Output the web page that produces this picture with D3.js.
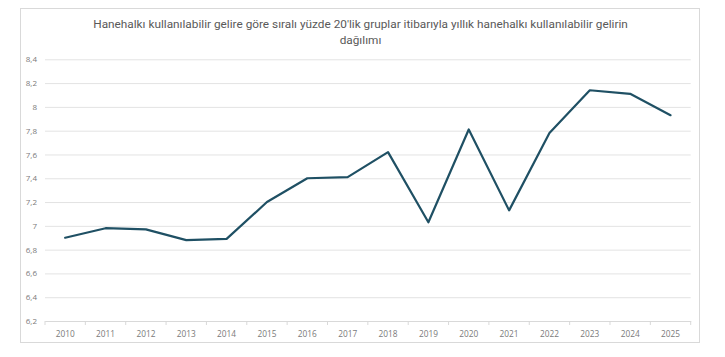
<!DOCTYPE html>
<html><head><meta charset="utf-8">
<script src="https://cdn.jsdelivr.net/npm/d3@7/dist/d3.min.js"></script>
<style>
html,body{margin:0;padding:0;background:#fff;}
svg{display:block;font-family:"Open Sans","Noto Sans",sans-serif;}
</style></head><body>
<svg id="c" width="725" height="357"></svg>
<script>
const titleLines = ["Hanehalkı kullanılabilir gelire göre sıralı yüzde 20'lik gruplar itibarıyla yıllık hanehalkı kullanılabilir gelirin", "dağılımı"];
const years = ["2010","2011","2012","2013","2014","2015","2016","2017","2018","2019","2020","2021","2022","2023","2024","2025"];
const values = [6.90,6.98,6.97,6.88,6.89,7.20,7.40,7.41,7.62,7.03,7.81,7.13,7.78,8.14,8.11,7.93];
const yTicks = [6.2,6.4,6.6,6.8,7,7.2,7.4,7.6,7.8,8,8.2,8.4];

const svg = d3.select("#c");
// chart frame
svg.append("rect").attr("x",20.5).attr("y",8.5).attr("width",679).attr("height",334)
  .attr("fill","#fff").attr("stroke","#d9d9d9").attr("stroke-width",1);

const x = d3.scaleBand().domain(years).range([45,690.7]);
const y = d3.scaleLinear().domain([6.2,8.4]).range([321,59.3]);

// title
const t = svg.append("text").attr("text-anchor","middle").attr("fill","#595959")
  .attr("font-family","Roboto,sans-serif").attr("font-size",12.5);
titleLines.forEach((s,i)=>{
  t.append("tspan").attr("x",360.5).attr("y",28+i*16).text(s);
});
// fit first line to reference width
const w0 = t.select("tspan").node().getComputedTextLength();
t.attr("font-size", 12.5*535/w0);

// gridlines
const yAxis = d3.axisLeft(y).tickValues(yTicks)
  .tickFormat(d=>String(d).replace(".",",")).tickSize(-(690.7-45)).tickPadding(8);
const gy = svg.append("g").attr("transform","translate(45,0)").call(yAxis);
gy.select(".domain").remove();
gy.selectAll(".tick line").attr("stroke","#e3e3e3").attr("stroke-width",1);
gy.selectAll(".tick text").attr("fill","#7a7a7a").attr("font-size",8)
  .attr("font-family","'Open Sans',sans-serif");

// x axis
const xAxis = d3.axisBottom(x).tickSize(0).tickPadding(10);
const gx = svg.append("g").attr("transform","translate(0,321)").call(xAxis);
gx.select(".domain").attr("stroke","#d9d9d9");
gx.selectAll(".tick text").attr("fill","#7a7a7a").attr("font-size",8.3)
  .attr("font-family","'Open Sans',sans-serif");
// category boundary tick marks
const bounds = years.map(d=>x(d)).concat([x.range()[1]]);
gx.selectAll("line.b").data(bounds).enter().append("line").attr("class","b")
  .attr("x1",d=>d).attr("x2",d=>d).attr("y1",0).attr("y2",4)
  .attr("stroke","#d9d9d9");

// line
const line = d3.line().x((d,i)=>x(years[i])+x.bandwidth()/2).y(d=>y(d));
svg.append("path").datum(values).attr("d",line).attr("fill","none")
  .attr("stroke","#1f5064").attr("stroke-width",2.2)
  .attr("stroke-linejoin","round").attr("stroke-linecap","round");
</script>
</body></html>
